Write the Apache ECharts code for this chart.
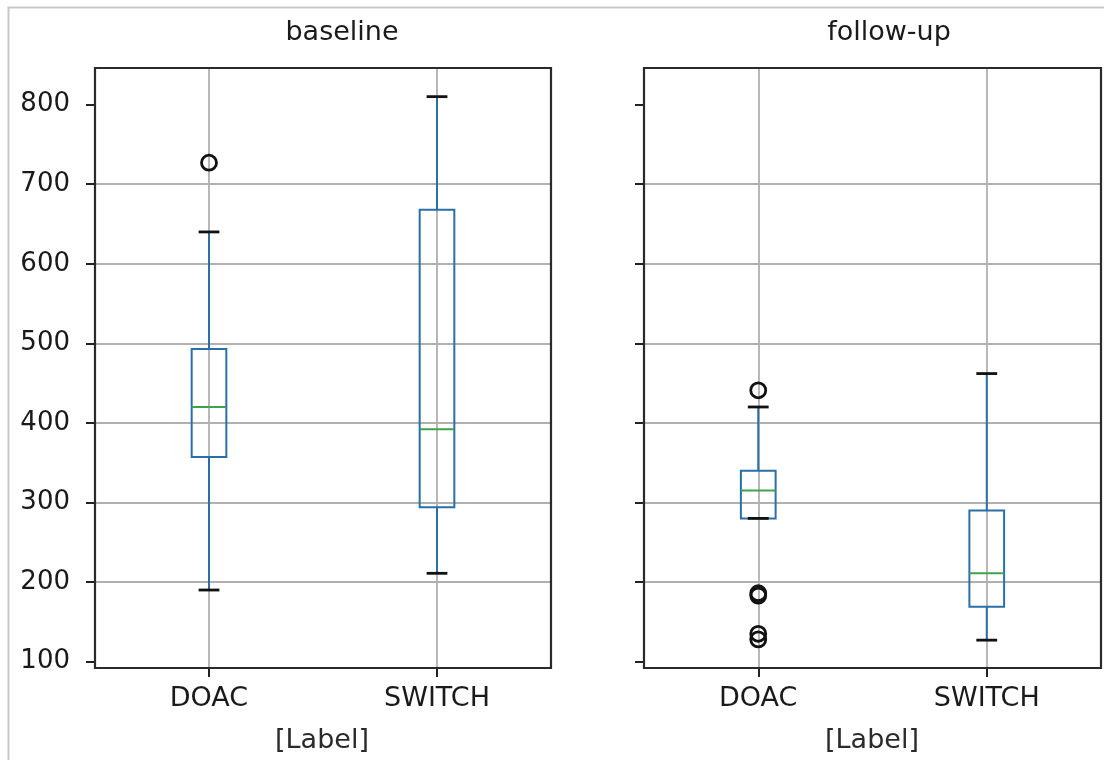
<!DOCTYPE html>
<html>
<head>
<meta charset="utf-8">
<script src="https://cdn.jsdelivr.net/npm/echarts@6/dist/echarts.min.js"></script>
<style>
html,body{margin:0;padding:0;background:#fff;}
#chart{width:1104px;height:760px;}
</style>
</head>
<body>
<div id="chart"></div>
<script>
// ---- data ----
const categories = ['DOAC', 'SWITCH'];
const panelTitles = ['baseline', 'follow-up'];
const xAxisLabel = '[Label]';
const yTickValues = [100, 200, 300, 400, 500, 600, 700, 800];
// [lower whisker, Q1, median, Q3, upper whisker]
const baselineStats = [
  [190, 357, 420, 493, 640],
  [211, 294, 392, 668, 810]
];
const followupStats = [
  [280, 280, 315, 340, 420],
  [127, 169, 211, 290, 462]
];
const baselineOutliers = [['DOAC', 727]];
const followupOutliers = [['DOAC', 441], ['DOAC', 186], ['DOAC', 183], ['DOAC', 135], ['DOAC', 128]];
const yMin = 92, yMax = 846;

// ---- styles ----
const BLUE = '#2a6faa';
const GREEN = '#3fa34d';
const TEXT = '#1a1a1a';
const FONT = 'DejaVu Sans';

const gridCats = ['_a'].concat(categories.flatMap((c, i) => i < categories.length - 1 ? [c, '_m' + i] : [c])).concat(['_z']);

function renderBox(params, api) {
  const x = api.value(0);
  const pLo = api.coord([x, api.value(1)]);
  const pQ1 = api.coord([x, api.value(2)]);
  const pMed = api.coord([x, api.value(3)]);
  const pQ3 = api.coord([x, api.value(4)]);
  const pHi = api.coord([x, api.value(5)]);
  const cx = pLo[0];
  const bw = api.size([1, 0])[0] * 0.152;
  const cw = bw * 0.6;
  const ls = {stroke: BLUE, lineWidth: 2, fill: null};
  return {
    type: 'group',
    children: [
      {type: 'line', shape: {x1: cx, y1: pQ3[1], x2: cx, y2: pHi[1]}, style: ls},
      {type: 'line', shape: {x1: cx, y1: pQ1[1], x2: cx, y2: pLo[1]}, style: ls},
      {type: 'rect', shape: {x: cx - bw / 2, y: pQ3[1], width: bw, height: pQ1[1] - pQ3[1]}, style: {stroke: BLUE, lineWidth: 2, fill: 'none'}},
      {type: 'line', shape: {x1: cx - bw / 2, y1: pMed[1], x2: cx + bw / 2, y2: pMed[1]}, style: {stroke: GREEN, lineWidth: 2}},
      {type: 'line', shape: {x1: cx - cw / 2, y1: pHi[1], x2: cx + cw / 2, y2: pHi[1]}, style: {stroke: '#111', lineWidth: 2.8}},
      {type: 'line', shape: {x1: cx - cw / 2, y1: pLo[1], x2: cx + cw / 2, y2: pLo[1]}, style: {stroke: '#111', lineWidth: 2.8}}
    ]
  };
}

const grids = [
  {left: 95, top: 68, width: 456, height: 600},
  {left: 644, top: 68, width: 457, height: 600}
];

const xAxes = [], yAxes = [], series = [];
[baselineStats, followupStats].forEach((stats, gi) => {
  xAxes.push({
    type: 'category', gridIndex: gi, data: categories, boundaryGap: true,
    axisLine: {show: false},
    axisTick: {show: true, alignWithLabel: true, length: 9, lineStyle: {color: '#222', width: 2}},
    axisLabel: {color: TEXT, fontSize: 27, fontFamily: FONT, margin: 17},
    splitLine: {show: false}
  });
  yAxes.push({
    type: 'value', gridIndex: gi, min: yMin, max: yMax, splitNumber: 8,
    axisLine: {show: false},
    axisTick: {show: true, length: 9, customValues: yTickValues, lineStyle: {color: '#222', width: 2}},
    axisLabel: {show: gi === 0, customValues: yTickValues, color: TEXT, fontSize: 26, fontFamily: FONT, margin: 25},
    splitLine: {show: true, showMinLine: false, showMaxLine: false, lineStyle: {color: '#b0b0b0', width: 1.8}}
  });
});
// vertical grid lines at the category centres
[0, 1].forEach(gi => {
  xAxes.push({
    type: 'category', gridIndex: gi, data: gridCats, boundaryGap: false,
    axisLine: {show: false}, axisTick: {show: false}, axisLabel: {show: false},
    splitLine: {show: true, interval: (i, v) => categories.indexOf(v) >= 0, lineStyle: {color: '#b0b0b0', width: 1.8}}
  });
});

[[baselineStats, baselineOutliers], [followupStats, followupOutliers]].forEach(([stats, outl], gi) => {
  series.push({
    type: 'custom', xAxisIndex: gi, yAxisIndex: gi, z: 3,
    renderItem: renderBox,
    encode: {x: 0, y: [1, 2, 3, 4, 5]},
    data: categories.map((c, i) => [c].concat(stats[i]))
  });
  series.push({
    type: 'scatter', xAxisIndex: gi, yAxisIndex: gi, z: 4,
    symbol: 'circle', symbolSize: 15,
    itemStyle: {color: 'rgba(0,0,0,0)', borderColor: '#111', borderWidth: 2.8, opacity: 1},
    data: outl
  });
});

const chart = echarts.init(document.getElementById('chart'), null, {renderer: 'canvas'});
chart.setOption({
  animation: false,
  backgroundColor: '#fff',
  grid: grids.map(g => Object.assign({show: true, borderColor: '#2a2a2a', borderWidth: 2.2, backgroundColor: 'rgba(0,0,0,0)', z: 5}, g)),
  xAxis: xAxes,
  yAxis: yAxes,
  series: series,
  graphic: [
    {type: 'polyline', silent: true, shape: {points: [[8.5, 760], [8.5, 7.5], [1104, 7.5]]}, style: {stroke: '#c8c8c8', lineWidth: 2, fill: null}},
    {type: 'text', x: 342, y: 33, style: {text: panelTitles[0], font: '27px "DejaVu Sans"', fill: TEXT, textAlign: 'center', textVerticalAlign: 'middle'}},
    {type: 'text', x: 889, y: 33, style: {text: panelTitles[1], font: '27px "DejaVu Sans"', fill: TEXT, textAlign: 'center', textVerticalAlign: 'middle'}},
    {type: 'text', x: 322, y: 741, style: {text: xAxisLabel, font: '27px "DejaVu Sans"', fill: '#2a2a2a', textAlign: 'center', textVerticalAlign: 'middle'}},
    {type: 'text', x: 872, y: 741, style: {text: xAxisLabel, font: '27px "DejaVu Sans"', fill: '#2a2a2a', textAlign: 'center', textVerticalAlign: 'middle'}}
  ]
});
</script>
</body>
</html>
